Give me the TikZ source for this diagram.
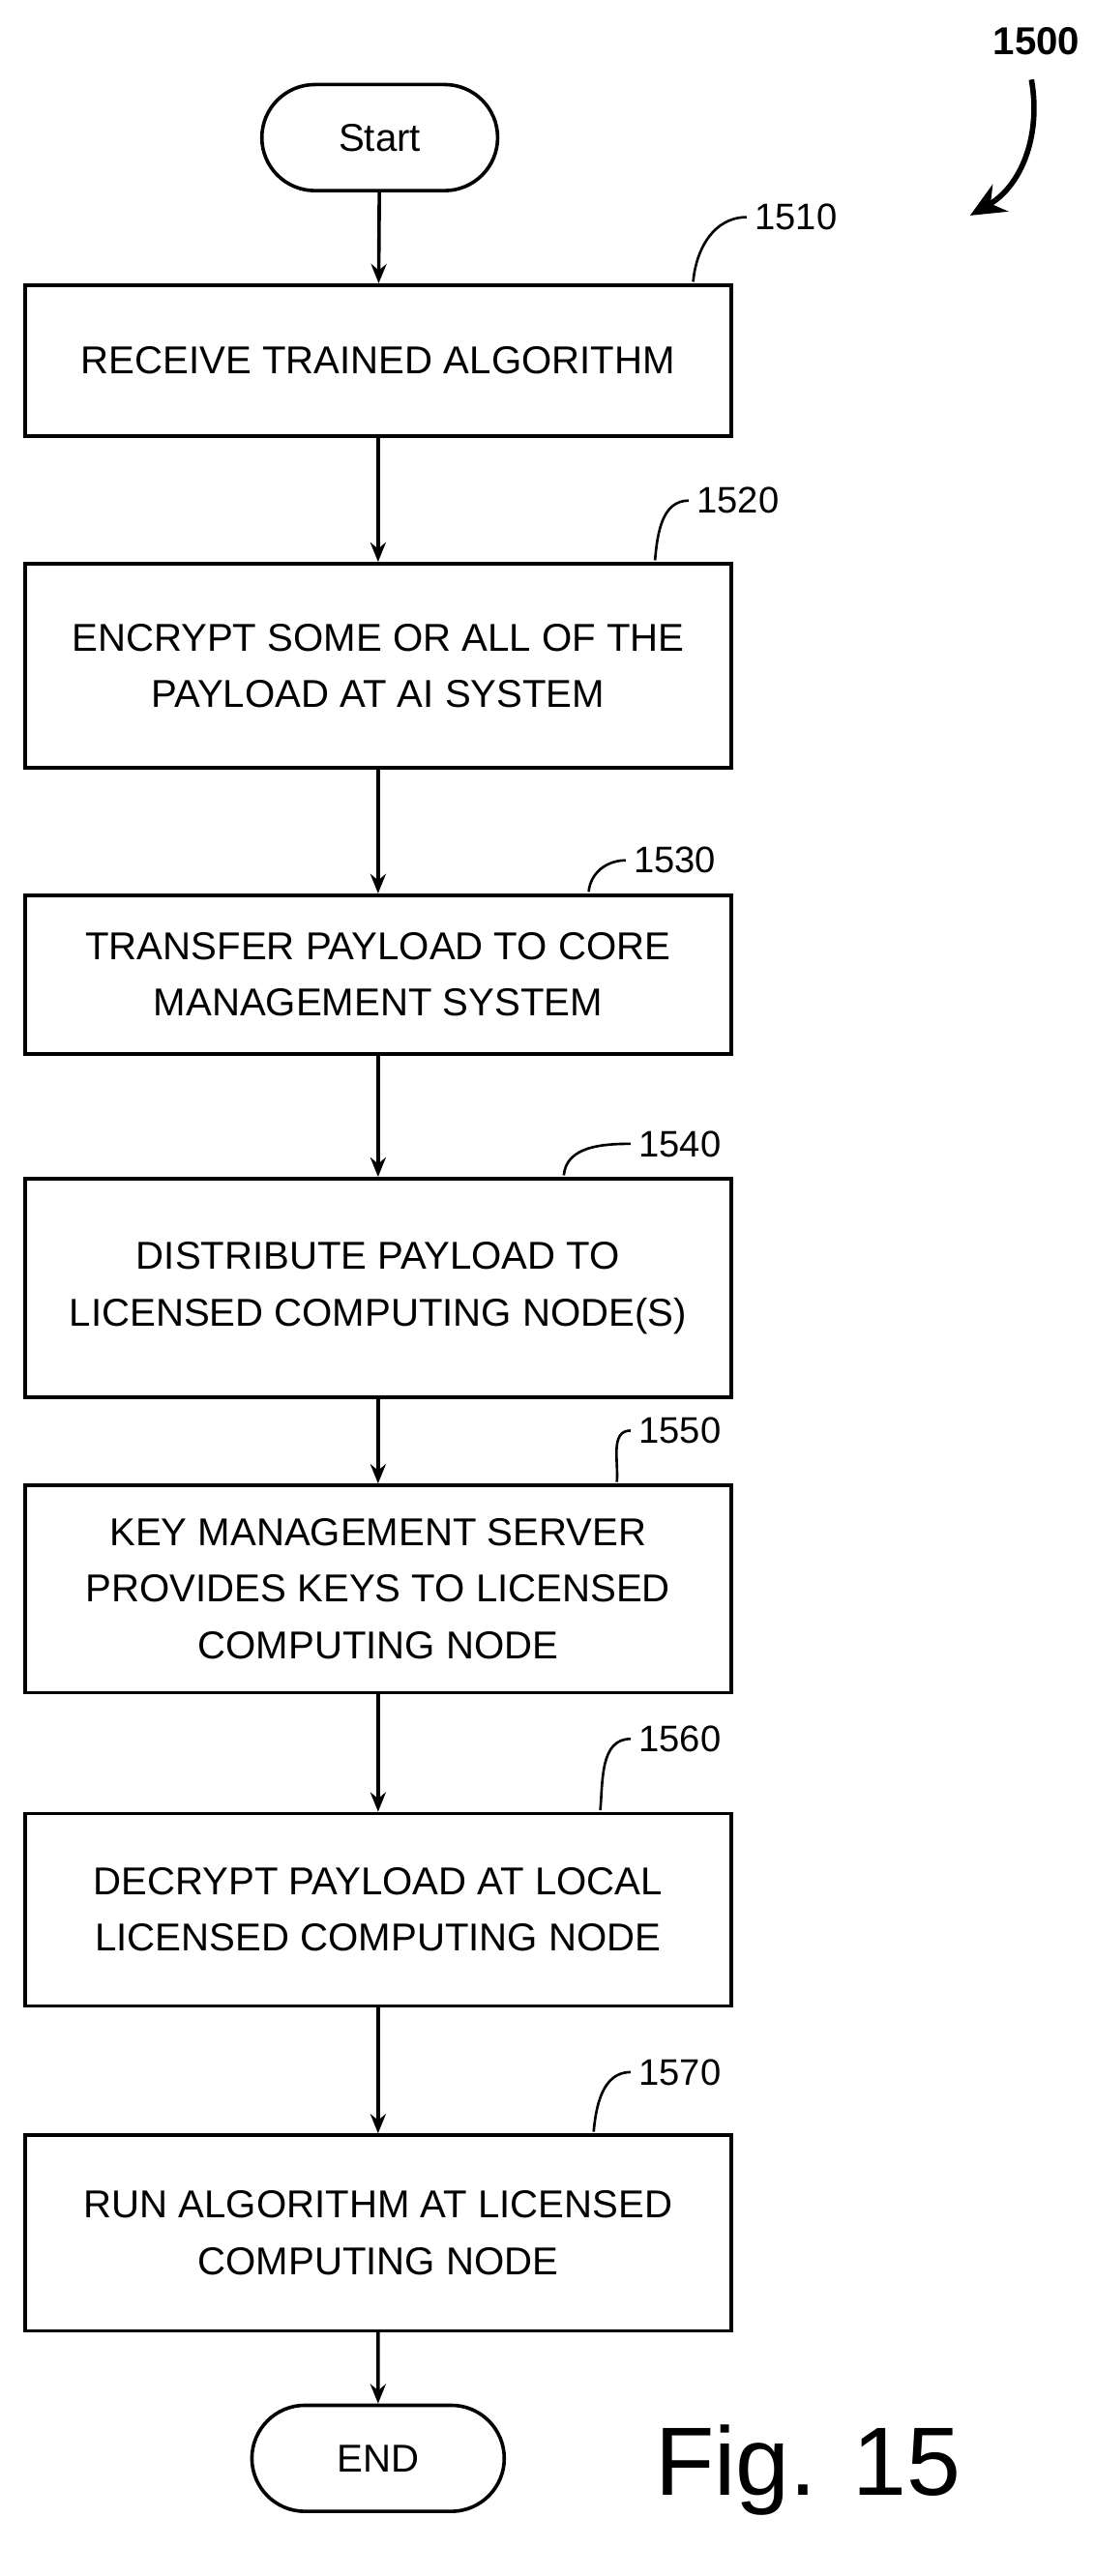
\documentclass[tikz,border=0pt]{standalone}
\usepackage{fontspec}
\setmainfont{Liberation Sans}
\usetikzlibrary{arrows, arrows.meta, positioning, shapes.misc}
\begin{document}
\begin{tikzpicture}[x=0.03cm, y=-0.03cm, -{Stealth[length=10pt, width=8pt]}, line width=1.8pt,
	proc/.style={draw, rectangle, minimum width=426*0.03cm, align=center, font=\fontsize{20}{29}\selectfont, inner sep=0pt},
	term/.style={draw, rounded rectangle, minimum height=64*0.03cm, font=\fontsize{20}{24}\selectfont},
	num/.style={font=\fontsize{19}{22}\selectfont}]

	\useasboundingbox (0,0) rectangle (660,1554);

	\node [term, minimum width=150*0.03cm]	(start)	at (229,83)		{Start};
	\node [proc, minimum height=91*0.03cm]	(s1510)	at (228,217.5)	{RECEIVE TRAINED ALGORITHM};
	\node [proc, minimum height=123*0.03cm]	(s1520)	at (228,401.5)	{ENCRYPT SOME OR ALL OF THE\\PAYLOAD AT AI SYSTEM};
	\node [proc, minimum height=96*0.03cm]	(s1530)	at (228,588)	{TRANSFER PAYLOAD TO CORE\\MANAGEMENT SYSTEM};
	\node [proc, minimum height=132*0.03cm]	(s1540)	at (228,777)	{DISTRIBUTE PAYLOAD TO\\LICENSED COMPUTING NODE(S)};
	\node [proc, minimum height=125*0.03cm]	(s1550)	at (228,958.5)	{KEY MANAGEMENT SERVER\\PROVIDES KEYS TO LICENSED\\COMPUTING NODE};
	\node [proc, minimum height=116*0.03cm]	(s1560)	at (228,1152)	{DECRYPT PAYLOAD AT LOCAL\\LICENSED COMPUTING NODE};
	\node [proc, minimum height=118*0.03cm]	(s1570)	at (228,1347)	{RUN ALGORITHM AT LICENSED\\COMPUTING NODE};
	\node [term, minimum width=160*0.03cm]	(end)	at (228,1483)	{END};

	\path	(start) edge (s1510)
			(s1510) edge (s1520)
			(s1520) edge (s1530)
			(s1530) edge (s1540)
			(s1540) edge (s1550)
			(s1550) edge (s1560)
			(s1560) edge (s1570)
			(s1570) edge (end);

	% reference numerals
	\foreach \n/\lx/\ly/\cx/\cy in {1510/480/131/418/170, 1520/445/302/395/338, 1530/407/519/355/538,
			1540/410/690/340/709, 1550/410/863/372/894, 1560/410/1049/362/1092, 1570/410/1250/358/1286} {
		\node [num]	(l\n)	at (\lx,\ly)	{\n};
		\coordinate	(c\n)	at (\cx,\cy);
		\draw [-, line width=1.3pt] (l\n.west) to[out=180, in=85] (c\n);
	}

	\node [font=\bfseries\fontsize{20}{24}\selectfont]	(fig)	at (625,25)		{1500};
	\coordinate	(tail)	at (622,48);
	\coordinate	(tip)	at (585,130);
	\draw [line width=2.8pt, -{Stealth[length=18pt, width=16pt]}] (tail) to[out=-80, in=30] (tip);
	\node [font=\fontsize{50}{60}\selectfont, anchor=west]	(cap)	at (390,1490)	{Fig. 15};
\end{tikzpicture}
\end{document}
